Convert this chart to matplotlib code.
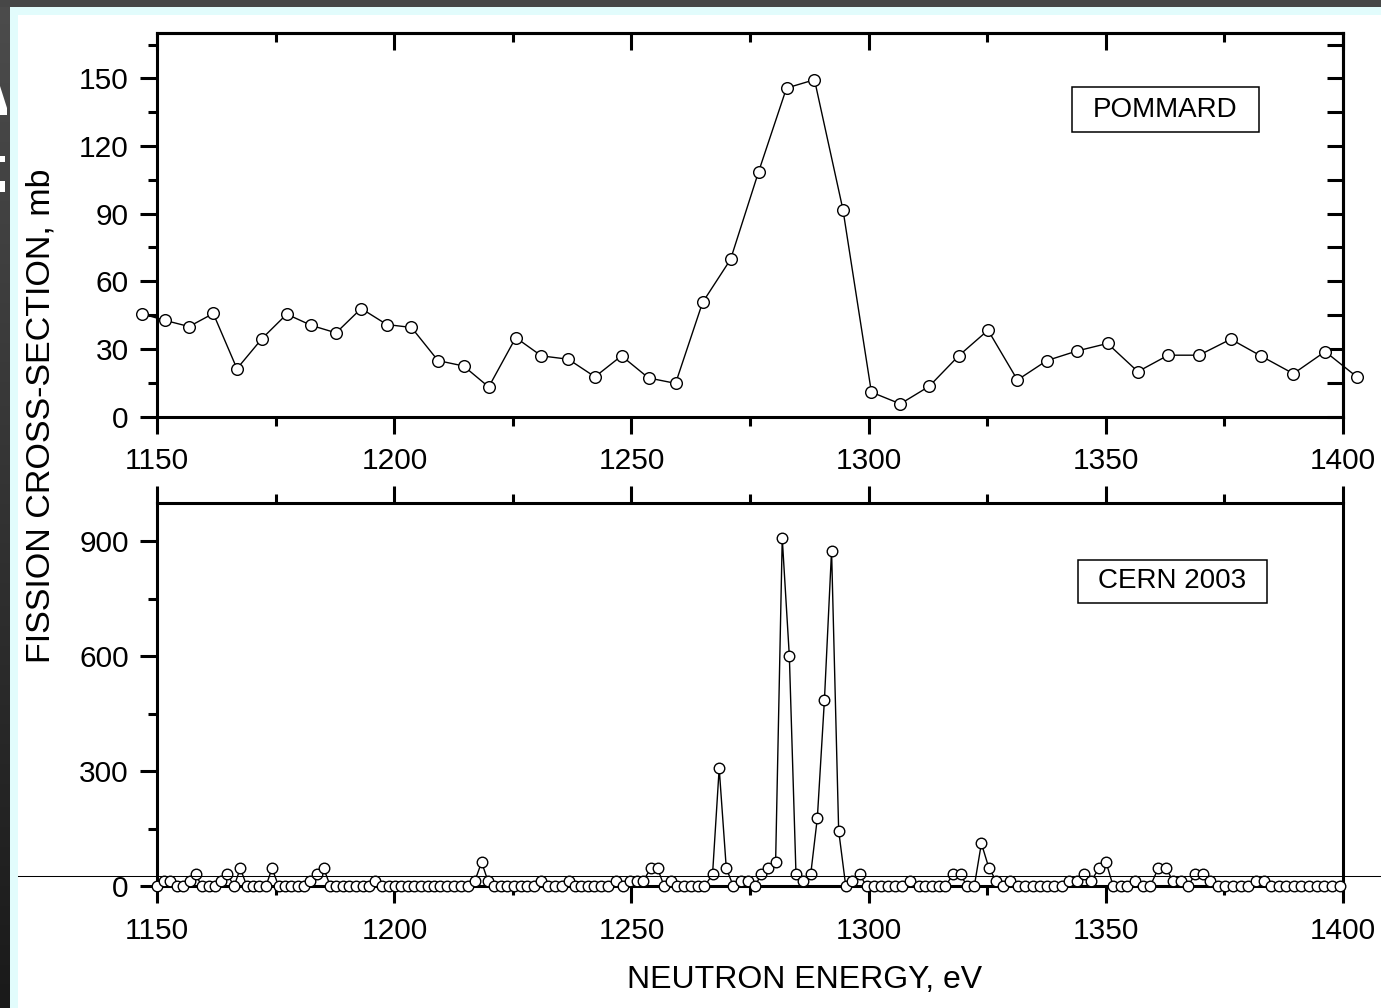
import numpy as np
import matplotlib
matplotlib.use('Agg')
import matplotlib.pyplot as plt
from matplotlib.patches import Rectangle, Polygon
from matplotlib.lines import Line2D
from matplotlib.ticker import MultipleLocator, NullFormatter

plt.rcParams['font.family'] = ['Liberation Sans', 'DejaVu Sans']

# ---------------- data ----------------
pommard_energy = [1146.7, 1151.7, 1156.7, 1161.8, 1166.8, 1172.1, 1177.3, 1182.5, 1187.7,
                  1193.0, 1198.4, 1203.6, 1209.2, 1214.6, 1219.9, 1225.6, 1231.0, 1236.7,
                  1242.3, 1247.9, 1253.6, 1259.3, 1265.0, 1270.9, 1276.8, 1282.7, 1288.6,
                  1294.6, 1300.6, 1306.7, 1312.8, 1319.0, 1325.2, 1331.4, 1337.6, 1344.0,
                  1350.4, 1356.8, 1363.2, 1369.7, 1376.4, 1382.8, 1389.6, 1396.3, 1403.1]
pommard_xs = [45.6, 42.6, 39.9, 45.7, 21.2, 34.6, 45.4, 40.4, 37.1,
              47.9, 40.8, 39.5, 24.8, 22.4, 13.1, 35.0, 26.9, 25.4,
              17.6, 26.9, 17.1, 14.7, 50.6, 69.7, 108.5, 145.7, 149.4,
              91.8, 10.8, 5.6, 13.4, 26.9, 38.3, 16.2, 24.8, 29.1,
              32.4, 19.9, 27.2, 27.2, 34.3, 26.8, 19.0, 28.8, 17.4]

cern_energy = [1150.0, 1151.4, 1152.7, 1154.1, 1155.4, 1156.8, 1158.1, 1159.4, 1160.8, 1162.2,
               1163.5, 1164.8, 1166.2, 1167.5, 1168.9, 1170.1, 1171.5, 1172.9, 1174.2, 1175.6,
               1177.0, 1178.3, 1179.6, 1181.0, 1182.3, 1183.7, 1185.1, 1186.5, 1187.7, 1189.2,
               1190.5, 1191.9, 1193.3, 1194.6, 1196.0, 1197.4, 1198.8, 1200.1, 1201.5, 1202.8,
               1204.2, 1205.6, 1207.0, 1208.3, 1209.7, 1211.1, 1212.5, 1214.0, 1215.5, 1217.0,
               1218.4, 1219.7, 1221.1, 1222.4, 1223.8, 1225.2, 1226.6, 1228.0, 1229.4, 1231.0,
               1232.4, 1233.9, 1235.3, 1236.8, 1238.0, 1239.4, 1240.9, 1242.2, 1243.5, 1245.0,
               1246.8, 1248.2, 1249.7, 1251.1, 1252.5, 1254.1, 1255.5, 1256.9, 1258.3, 1259.7,
               1261.1, 1262.5, 1264.0, 1265.4, 1267.1, 1268.5, 1270.0, 1271.5, 1273.0, 1274.5,
               1276.0, 1277.4, 1278.9, 1280.4, 1281.8, 1283.3, 1284.7, 1286.2, 1287.8, 1289.2,
               1290.7, 1292.2, 1293.7, 1295.2, 1296.6, 1298.1, 1299.6, 1301.1, 1302.6, 1304.0,
               1305.5, 1307.1, 1308.8, 1310.6, 1312.0, 1313.4, 1314.8, 1316.2, 1317.8, 1319.4,
               1320.8, 1322.3, 1323.8, 1325.4, 1326.9, 1328.4, 1329.9, 1331.5, 1333.1, 1334.6,
               1336.1, 1337.7, 1339.2, 1340.7, 1342.3, 1343.9, 1345.4, 1347.0, 1348.6, 1350.1,
               1351.6, 1353.2, 1354.6, 1356.3, 1357.9, 1359.4, 1361.1, 1362.7, 1364.2, 1365.8,
               1367.3, 1368.9, 1370.5, 1372.0, 1373.7, 1375.2, 1376.8, 1378.5, 1380.1, 1381.7,
               1383.3, 1384.9, 1386.5, 1388.1, 1389.7, 1391.3, 1392.9, 1394.5, 1396.1, 1397.7,
               1399.4]
cern_xs = [0, 15, 15, 0, 0, 15, 31, 0, 0, 0,
           15, 31, 0, 47, 0, 0, 0, 0, 47, 0,
           0, 0, 0, 0, 15, 31, 47, 0, 0, 0,
           0, 0, 0, 0, 15, 0, 0, 0, 0, 0,
           0, 0, 0, 0, 0, 0, 0, 0, 0, 15,
           63, 15, 0, 0, 0, 0, 0, 0, 0, 15,
           0, 0, 0, 15, 0, 0, 0, 0, 0, 0,
           15, 0, 15, 15, 15, 47, 47, 0, 15, 0,
           0, 0, 0, 0, 31, 308, 47, 0, 15, 15,
           0, 31, 47, 63, 908, 600, 31, 15, 31, 178,
           487, 876, 145, 0, 15, 31, 0, 0, 0, 0,
           0, 0, 15, 0, 0, 0, 0, 0, 31, 31,
           0, 0, 112, 47, 15, 0, 15, 0, 0, 0,
           0, 0, 0, 0, 15, 15, 31, 15, 47, 63,
           0, 0, 0, 15, 0, 0, 47, 47, 15, 15,
           0, 31, 31, 15, 0, 0, 0, 0, 0, 15,
           15, 0, 0, 0, 0, 0, 0, 0, 0, 0,
           0]

x_range = (1150, 1400)
x_major = [1150, 1200, 1250, 1300, 1350, 1400]
top_yticks = [0, 30, 60, 90, 120, 150]
bottom_yticks = [0, 300, 600, 900]
top_label = "POMMARD"
bottom_label = "CERN 2003"
x_title = "NEUTRON ENERGY, eV"
y_title = "FISSION CROSS-SECTION, mb"

# ---------------- figure ----------------
W, H = 1381, 1008
fig = plt.figure(figsize=(W / 100, H / 100), dpi=100)
fig.patch.set_facecolor('white')

def fx(px):
    return px / W

def fy(py):
    return 1 - py / H

# frame decoration (dark slide border + light cyan edge)
bg = fig.add_axes([0, 0, fx(10), 1], zorder=-5)
grad = np.linspace(0, 1, 256).reshape(-1, 1)
bg.imshow(grad, aspect='auto', cmap=matplotlib.colors.LinearSegmentedColormap.from_list(
    'g', ['#4c4c4c', '#1a1a1a']), extent=[0, 1, 0, 1], origin='upper')
bg.set_axis_off()
fig.patches.append(Rectangle((0, fy(7)), 1, fy(0) - fy(7), transform=fig.transFigure,
                             facecolor='#474747', edgecolor='none', zorder=-4))
fig.patches.append(Rectangle((fx(10), fy(15)), 1, fy(7) - fy(15), transform=fig.transFigure,
                             facecolor='#e2fcfc', edgecolor='none', zorder=-4))
fig.patches.append(Rectangle((fx(10), 0), fx(8), fy(15), transform=fig.transFigure,
                             facecolor='#e2fcfc', edgecolor='none', zorder=-4))
fig.patches.append(Polygon([(0, fy(86)), (fx(7), fy(108)), (fx(7), fy(115)), (0, fy(115))],
                           closed=True, transform=fig.transFigure, facecolor='white',
                           edgecolor='none', zorder=-3))
for (y0, y1) in [(156, 162), (181, 192)]:
    fig.patches.append(Rectangle((0, fy(y1)), fx(5), fy(y0) - fy(y1), transform=fig.transFigure,
                                 facecolor='white', edgecolor='none', zorder=-3))

L, R = 157.3, 1342.7
ax1 = fig.add_axes([fx(L), fy(416.5), fx(R) - fx(L), fy(33.3) - fy(416.5)])
ax2 = fig.add_axes([fx(L), fy(886.3), fx(R) - fx(L), fy(503) - fy(886.3)])

SPW = 2.2
TICK_FS = 21.5
for ax in (ax1, ax2):
    for s in ax.spines.values():
        s.set_linewidth(SPW)
    ax.set_xlim(*x_range)
    ax.set_xticks(x_major)
    ax.xaxis.set_minor_locator(MultipleLocator(25))
    ax.tick_params(axis='both', which='major', labelsize=TICK_FS, width=SPW, length=12)
    ax.tick_params(axis='both', which='minor', width=SPW, length=6.3)
    ax.tick_params(axis='x', which='both', direction='out', pad=10)
    ax.tick_params(axis='y', which='both', direction='out', pad=8.5)

# top panel
ax1.plot(pommard_energy, pommard_xs, color='black', lw=1.0, marker='o', ms=8.4,
         mfc='white', mec='black', mew=1.0, clip_on=False, zorder=3)
ax1.set_ylim(0, 170)
ax1.set_yticks(top_yticks)
ax1.yaxis.set_minor_locator(MultipleLocator(15))
ax1.tick_params(axis='x', which='both', top=False)
ax1.tick_params(axis='y', which='both', right=False)
sec_top = ax1.secondary_xaxis('top')
sec_top.set_xticks(x_major)
sec_top.xaxis.set_minor_locator(MultipleLocator(25))
sec_top.xaxis.set_major_formatter(NullFormatter())
sec_top.tick_params(which='major', direction='in', length=12, width=SPW)
sec_top.tick_params(which='minor', direction='in', length=6.3, width=SPW)
sec_top.spines['top'].set_linewidth(SPW)
sec_right = ax1.secondary_yaxis('right')
sec_right.set_yticks(np.arange(0, 171, 15))
sec_right.yaxis.set_major_formatter(NullFormatter())
sec_right.tick_params(which='major', direction='in', length=11.5, width=SPW)
sec_right.spines['right'].set_linewidth(SPW)

ax1.add_patch(Rectangle((0.7714, 0.7417), 0.9296 - 0.7714, 0.8591 - 0.7417,
                        transform=ax1.transAxes, facecolor='white', edgecolor='black',
                        lw=1.1, zorder=4))
ax1.text(0.8505, 0.8004, top_label, transform=ax1.transAxes, ha='center', va='center',
         fontsize=20, zorder=5)

# bottom panel
ax2.plot(cern_energy, cern_xs, color='black', lw=1.0, marker='o', ms=7.6,
         mfc='white', mec='black', mew=1.0, clip_on=False, zorder=3)
ax2.set_ylim(0, 1000)
ax2.set_yticks(bottom_yticks)
ax2.yaxis.set_minor_locator(MultipleLocator(150))
ax2.tick_params(axis='x', which='both', top=True)
ax2.tick_params(axis='y', which='both', right=False)

ax2.add_patch(Rectangle((0.7767, 0.7391), 0.9361 - 0.7767, 0.8513 - 0.7391,
                        transform=ax2.transAxes, facecolor='white', edgecolor='black',
                        lw=1.1, zorder=4))
ax2.text(0.8564, 0.7952, bottom_label, transform=ax2.transAxes, ha='center', va='center',
         fontsize=20, zorder=5)

# axis titles
fig.text(fx(805), fy(980), x_title, ha='center', va='center', fontsize=23)
fig.text(fx(41), fy(416), y_title, ha='center', va='center', rotation=90, fontsize=24.5)

# stray horizontal line across the figure
fig.lines.append(Line2D([fx(18), 1], [fy(875.7), fy(875.7)], transform=fig.transFigure,
                        color='black', lw=0.75, zorder=10))

fig.savefig('out.png', dpi=100)
